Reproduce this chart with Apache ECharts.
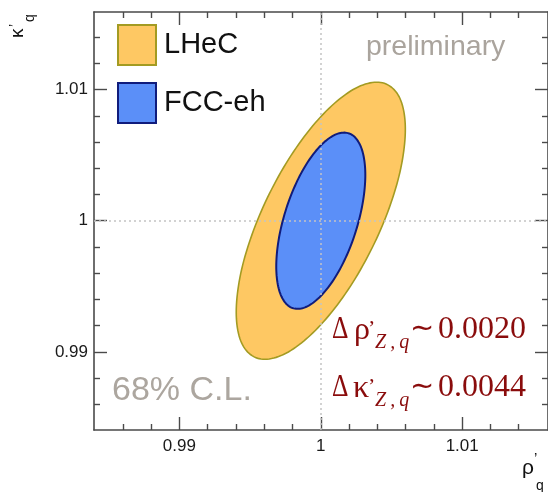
<!DOCTYPE html>
<html><head><meta charset="utf-8">
<script src="https://cdn.jsdelivr.net/npm/echarts@6/dist/echarts.min.js"></script>
<style>html,body{margin:0;padding:0;background:#fff}#c{width:548px;height:492px}</style>
</head><body><div id="c"></div>
<script>
// ---- data ----
const seriesNames = ['LHeC', 'FCC-eh'];
// LHeC 68% C.L. contour (rho'_q, kappa'_q)
const lhecRho   = [1.00598,1.00553,1.00423,1.00229,1.00000,0.99771,0.99577,0.99447,0.99402,0.99447,0.99577,0.99771,1.00000,1.00229,1.00423,1.00553];
const lhecKappa = [1.00697,1.00947,1.01054,1.01000,1.00793,1.00466,1.00068,0.99660,0.99303,0.99053,0.98946,0.99000,0.99207,0.99534,0.99932,1.00340];
// FCC-eh 68% C.L. contour
const fccRho    = [1.00315,1.00291,1.00223,1.00121,1.00000,0.99879,0.99777,0.99709,0.99685,0.99709,0.99777,0.99879,1.00000,1.00121,1.00223,1.00291];
const fccKappa  = [1.00349,1.00542,1.00653,1.00664,1.00574,1.00397,1.00159,0.99897,0.99651,0.99458,0.99347,0.99336,0.99426,0.99603,0.99841,1.00103];
const majorTicks = [0.99, 1, 1.01];
const majorLabels = ['0.99', '1', '1.01'];
const minorTicks = [0.986,0.988,0.992,0.994,0.996,0.998,1.002,1.004,1.006,1.008,1.012,1.014];
const xRange = [0.98396, 1.01607];
const yRange = [0.98405, 1.01591];
const refLine = 1;

const colors = {
  lhecFill: '#fec863', lhecLine: '#a39b22',
  fccFill: '#5b8ff8', fccLine: '#101c7c'
};

// closed Catmull-Rom curve through the projected contour points (drawing only)
function closedSpline(pts, n) {
  const out = [], L = pts.length;
  for (let i = 0; i < L; i++) {
    const p0 = pts[(i - 1 + L) % L], p1 = pts[i], p2 = pts[(i + 1) % L], p3 = pts[(i + 2) % L];
    for (let k = 0; k < n; k++) {
      const s = k / n, s2 = s * s, s3 = s2 * s;
      const f = d => 0.5 * (2 * p1[d] + (-p0[d] + p2[d]) * s + (2 * p0[d] - 5 * p1[d] + 4 * p2[d] - p3[d]) * s2 + (-p0[d] + 3 * p1[d] - 3 * p2[d] + p3[d]) * s3);
      out.push([f(0), f(1)]);
    }
  }
  return out;
}

function polySeries(name, xs, ys, fill, stroke, lw, z) {
  return {
    type: 'custom', name: name, z: z,
    xAxisIndex: 0, yAxisIndex: 0,
    data: xs.map((x, i) => [x, ys[i]]),
    encode: { x: 0, y: 1 },
    itemStyle: { color: fill, borderColor: stroke, borderWidth: lw },
    silent: true,
    renderItem: function (params, api) {
      if (params.dataIndex !== 0) return null;
      const pts = xs.map((x, i) => api.coord([x, ys[i]]));
      return { type: 'polygon', shape: { points: closedSpline(pts, 12) },
        style: { fill: fill, stroke: stroke, lineWidth: lw } };
    }
  };
}

const axisCol = '#4a4a4a';
function mkAxis(dim, pos, vals, len, labels) {
  const range = dim === 'x' ? xRange : yRange;
  return {
    type: 'value', position: pos, min: range[0], max: range[1],
    axisLine: { show: len > 8, onZero: false, lineStyle: { color: axisCol, width: 1.6 } },
    axisTick: { show: true, inside: true, length: len, customValues: vals, lineStyle: { color: axisCol, width: 1.4 } },
    axisLabel: labels ? {
      show: true, customValues: vals, margin: dim === 'x' ? 8 : 6,
      formatter: v => { const i = majorTicks.findIndex(m => Math.abs(m - v) < 1e-9); return i >= 0 ? majorLabels[i] : ''; },
      fontSize: 17, color: '#1a1a1a', fontFamily: 'Liberation Sans'
    } : { show: false },
    splitLine: { show: false }
  };
}

const chart = echarts.init(document.getElementById('c'), null, { renderer: 'canvas' });

const red = '#8a0c0c';
const serif = 'Liberation Serif';
function t(text, x, y, size, opts) {
  opts = opts || {};
  return { type: 'text', x: x, y: y, z: 100, silent: true, rotation: opts.rot || 0,
    scaleX: opts.sx || 1,
    style: { text: text, fontSize: size, fontFamily: opts.font || serif, fill: opts.color || red,
      fontStyle: opts.italic ? 'italic' : 'normal', align: 'left', verticalAlign: 'middle' } };
}
const sub = 'Z\u2009,\u2009q';

chart.setOption({
  animation: false,
  backgroundColor: '#ffffff',
  grid: { left: 94, top: 12, width: 455, height: 418, containLabel: false },
  xAxis: [
    mkAxis('x', 'bottom', majorTicks, 13, true),
    mkAxis('x', 'bottom', minorTicks, 6, false),
    mkAxis('x', 'top', majorTicks, 13, false),
    mkAxis('x', 'top', minorTicks, 6, false)
  ],
  yAxis: [
    mkAxis('y', 'left', majorTicks, 13, true),
    mkAxis('y', 'left', minorTicks, 6, false),
    mkAxis('y', 'right', majorTicks, 13, false),
    mkAxis('y', 'right', minorTicks, 6, false)
  ],
  legend: {
    orient: 'vertical', left: 117, top: 24, padding: 0, itemWidth: 38, itemHeight: 40, itemGap: 16,
    icon: 'rect', selectedMode: false,
    textStyle: { fontSize: 29, color: '#111', fontFamily: 'Liberation Sans', padding: [0, 0, 0, 3] },
    data: [
      { name: seriesNames[0], itemStyle: { color: colors.lhecFill, borderColor: colors.lhecLine, borderWidth: 2 } },
      { name: seriesNames[1], itemStyle: { color: colors.fccFill, borderColor: colors.fccLine, borderWidth: 2 } }
    ]
  },
  series: [
    polySeries(seriesNames[0], lhecRho, lhecKappa, colors.lhecFill, colors.lhecLine, 1.6, 2),
    polySeries(seriesNames[1], fccRho, fccKappa, colors.fccFill, colors.fccLine, 2, 3),
    {
      type: 'line', name: 'ref', data: [], z: 5, xAxisIndex: 0, yAxisIndex: 0,
      markLine: { silent: true, symbol: 'none', label: { show: false }, animation: false,
        lineStyle: { type: [2, 3], color: '#c4c4c4', width: 1.5 },
        data: [{ xAxis: refLine }, { yAxis: refLine }] }
    }
  ],
  graphic: [
    t('preliminary', 366, 47, 28.5, { font: 'Liberation Sans', color: '#aaa49d' }),
    t('68% C.L.', 112, 391, 34, { font: 'Liberation Sans', color: '#aca69f' }),
    // Δρ'_{Z,q} ~ 0.0020
    t('Δ', 332, 330, 32, { sx: 0.8 }), t('ρ', 354, 331, 32), t('’', 368, 329, 22),
    t(sub, 375, 343, 20, { italic: true }), t('∼', 410, 329, 29), t('0.0020', 438, 330, 32),
    // Δκ'_{Z,q} ~ 0.0044
    t('Δ', 332, 388, 32, { sx: 0.8 }), t('κ', 353, 389, 32), t('’', 368, 387, 22),
    t(sub, 375, 401, 20, { italic: true }), t('∼', 410, 387, 29), t('0.0044', 438, 388, 32),
    // axis titles
    { type: 'group', x: 24, y: 38, rotation: Math.PI / 2, children: [
      t('κ', 0, -6, 19, { font: 'Liberation Sans', color: '#111' }),
      t('’', 11, -9, 14, { font: 'Liberation Sans', color: '#111' }),
      t('q', 16, 6, 14, { font: 'Liberation Sans', color: '#111' })
    ] },
    t('ρ', 522, 468, 21, { font: 'Liberation Sans', color: '#111' }),
    t('’', 534, 459, 15, { font: 'Liberation Sans', color: '#111' }),
    t('q', 536, 486, 14, { font: 'Liberation Sans', color: '#111' })
  ]
});
</script>
</body></html>
